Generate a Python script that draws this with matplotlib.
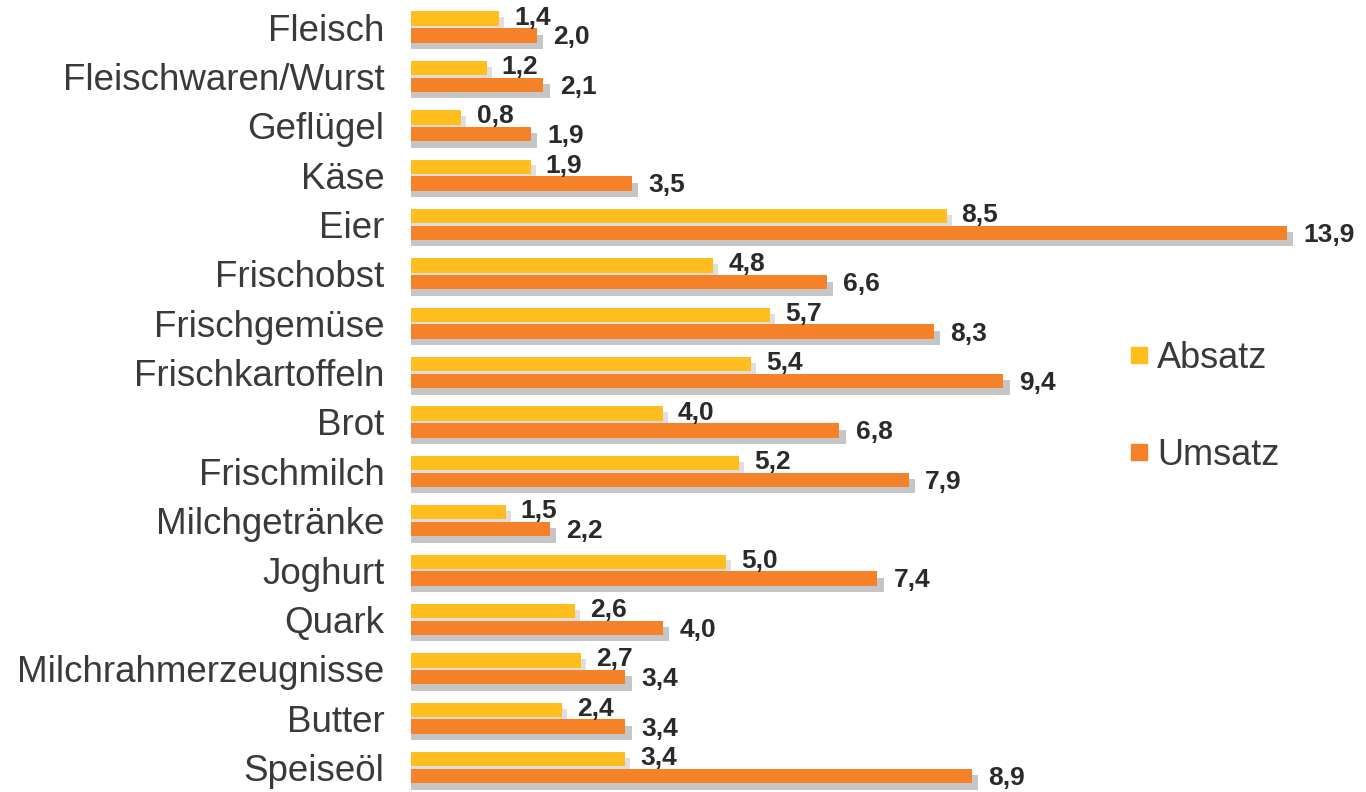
import matplotlib
matplotlib.use("Agg")
import matplotlib.pyplot as plt
from matplotlib.lines import Line2D

# Data
categories = ["Fleisch", "Fleischwaren/Wurst", "Geflügel", "Käse", "Eier",
              "Frischobst", "Frischgemüse", "Frischkartoffeln", "Brot",
              "Frischmilch", "Milchgetränke", "Joghurt", "Quark",
              "Milchrahmerzeugnisse", "Butter", "Speiseöl"]
absatz = [1.4, 1.2, 0.8, 1.9, 8.5, 4.8, 5.7, 5.4, 4.0, 5.2, 1.5, 5.0, 2.6, 2.7, 2.4, 3.4]
umsatz = [2.0, 2.1, 1.9, 3.5, 13.9, 6.6, 8.3, 9.4, 6.8, 7.9, 2.2, 7.4, 4.0, 3.4, 3.4, 8.9]

YELLOW = "#FFBE1E"
ORANGE = "#F58228"
SHADOW = "#C6C6C6"
TEXT = "#3a3a3a"

plt.rcParams["font.family"] = ["Liberation Sans", "DejaVu Sans"]

fig = plt.figure(figsize=(13.66, 7.92), dpi=100)
ax = fig.add_axes([411 / 1366, 0, 1 - 411 / 1366, 1])

pos = list(range(len(categories)))
y_abs = [p - 0.17 for p in pos]
y_ums = [p + 0.17 for p in pos]
h = 0.29

# shadows
ax.barh([y + 0.12 for y in y_abs], [v + 0.14 for v in absatz], left=-0.06,
        height=h, color="#DEDEDE", zorder=1)
ax.barh([y + 0.13 for y in y_ums], [v + 0.16 for v in umsatz], left=-0.06,
        height=h, color=SHADOW, zorder=1)

# bars
ax.barh(y_abs, absatz, height=h, color=YELLOW, zorder=3)
ax.barh(y_ums, umsatz, height=h, color=ORANGE, zorder=3)

# value labels
for y, v in zip(y_abs, absatz):
    ax.text(v + 0.24, y - 0.02, f"{v:.1f}".replace(".", ","), ha="left", va="center",
            fontsize=19, fontweight="bold", color="#2a2a2a", zorder=5)
for y, v in zip(y_ums, umsatz):
    ax.text(v + 0.26, y + 0.04, f"{v:.1f}".replace(".", ","), ha="left", va="center",
            fontsize=19, fontweight="bold", color="#2a2a2a", zorder=5)

ax.set_xlim(0, 955 / 63)
ax.set_ylim(15.495, -0.547)
ax.set_yticks(pos)
ax.set_yticklabels(categories, fontsize=26.5, color=TEXT)
ax.tick_params(axis="y", length=0, pad=19)
ax.set_xticks([])
for s in ax.spines.values():
    s.set_visible(False)

handles = [Line2D([], [], marker="s", linestyle="", markersize=11, color=YELLOW),
           Line2D([], [], marker="s", linestyle="", markersize=11, color=ORANGE)]
fig.legend(handles, ["Absatz", "Umsatz"], loc="center left",
           bbox_to_anchor=(1110 / 1366, 1 - 407 / 792), frameon=False,
           fontsize=26, labelcolor=TEXT, handlelength=0.6, handletextpad=0.2,
           labelspacing=1.72, borderpad=0)

fig.savefig("out.png", dpi=100)
